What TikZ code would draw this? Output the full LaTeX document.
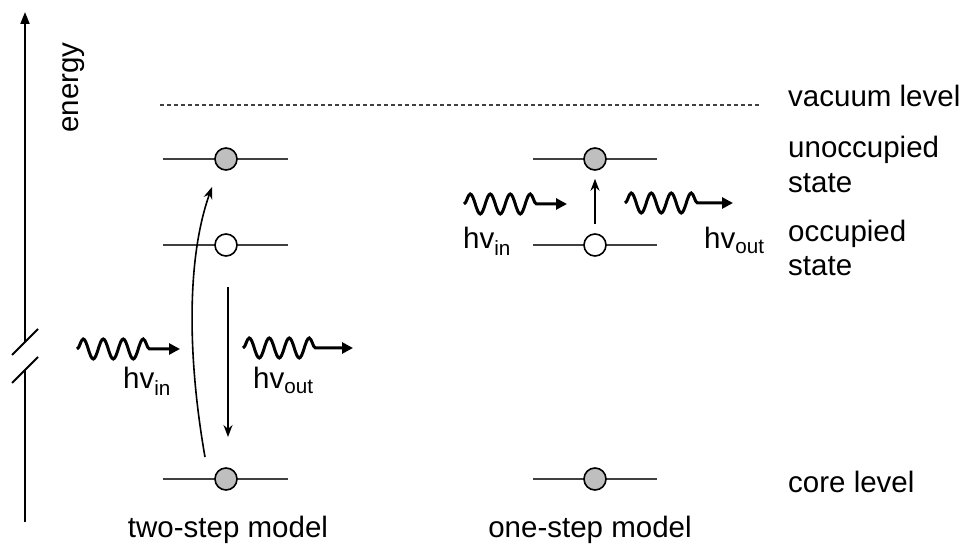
\documentclass[tikz,border=0pt]{standalone}
\usepackage{fontspec}
\setmainfont{Liberation Sans}
\usetikzlibrary{arrows.meta,decorations.pathmorphing}
\begin{document}
\begin{tikzpicture}[x=1pt,y=-1pt,
  font=\fontsize{29.5}{35}\selectfont,
  lvl/.style={line width=1.4pt, draw=black!75},
  st/.style={circle, draw=black, line width=1.6pt, minimum size=22pt, inner sep=0pt},
  full/.style={st, fill=black!25},
  empty/.style={st, fill=white},
  arr/.style={line width=1.6pt, -{Stealth[length=12pt,width=9pt]}},
  wave/.style={line width=3pt, -{Triangle[length=11pt,width=11pt]}, decorate,
    decoration={snake, segment length=20pt, amplitude=10pt, post length=#1}},
  wave/.default=23pt,
  lbl/.style={anchor=base west, inner sep=0pt}]
\useasboundingbox (0,0) rectangle (962,545);

% energy axis
\coordinate (ax0) at (25,522);
\coordinate (ax1) at (25,370);
\coordinate (ax2) at (25,342);
\coordinate (ax3) at (25,12);
\draw[line width=2pt] (ax0) -- (ax1);
\draw[line width=2pt, -{Triangle[length=12pt,width=9pt]}] (ax2) -- (ax3);
\draw[line width=2pt] (12,355) -- (38,329);
\draw[line width=2pt] (12,383) -- (38,357);
\node[rotate=90, anchor=base west, inner sep=0pt] (en) at (78,133) {energy};

% vacuum level
\draw[lvl, dash pattern=on 4pt off 3pt] (160,105) -- (760,105);

% two-step levels
\draw[lvl] (163,159) -- (288,159);
\draw[lvl] (163,245) -- (288,245);
\draw[lvl] (163,479) -- (288,479);
\node[full]  (u2) at (226,159) {};
\node[empty] (o2) at (226,245) {};
\node[full]  (c2) at (226,479) {};

% one-step levels
\draw[lvl] (533,159) -- (657,159);
\draw[lvl] (533,245) -- (657,245);
\draw[lvl] (533,479) -- (657,479);
\node[full]  (u1) at (595,159) {};
\node[empty] (o1) at (595,245) {};
\node[full]  (c1) at (595,479) {};

% two-step arrows
\coordinate (cs) at (205,457);
\coordinate (ce) at (212,187);
\draw[arr] (cs) .. controls (188,360) and (186,260) .. (ce);
\coordinate (ds) at (228,287);
\coordinate (de) at (228,437);
\draw[arr] (ds) -- (de);

% one-step arrow
\draw[arr, shorten <=9pt, shorten >=8pt] (o1) -- (u1);

% waves
\coordinate (w1a) at (77,349);  \coordinate (w1b) at (180,349);
\coordinate (w2a) at (243,348); \coordinate (w2b) at (353,348);
\coordinate (w3a) at (464,204); \coordinate (w3b) at (567,204);
\coordinate (w4a) at (625,203); \coordinate (w4b) at (733,203);
\draw[wave] (w1a) -- (w1b);
\draw[wave=30pt] (w2a) -- (w2b);
\draw[wave] (w3a) -- (w3b);
\draw[wave=28pt] (w4a) -- (w4b);

% hv labels
\node[lbl] (h1) at (123,389) {hv\textsubscript{in}};
\node[lbl] (h2) at (253,389) {hv\textsubscript{out}};
\node[lbl] (h3) at (463,249) {hv\textsubscript{in}};
\node[lbl] (h4) at (704,249) {hv\textsubscript{out}};

% right labels
\node[lbl] (vac) at (788,107) {vacuum level};
\node[lbl] (un1) at (788,158) {unoccupied};
\node[lbl] (un2) at (788,193) {state};
\node[lbl] (oc1) at (788,242) {occupied};
\node[lbl] (oc2) at (788,276) {state};
\node[lbl] (core) at (788,493) {core level};

% bottom labels
\node[anchor=base, inner sep=0pt] (m2) at (228,537) {two-step model};
\node[anchor=base, inner sep=0pt] (m1) at (590,537) {one-step model};
\end{tikzpicture}
\end{document}
